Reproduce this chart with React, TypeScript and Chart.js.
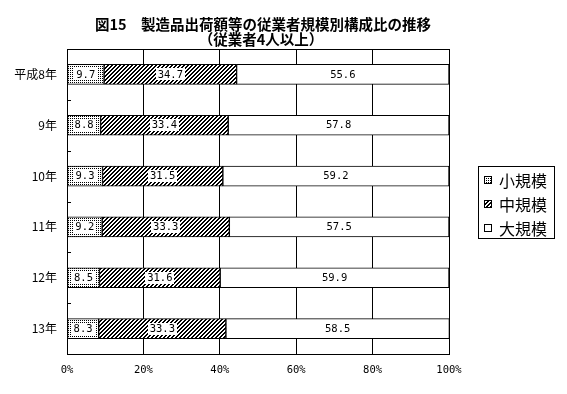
import React, { useEffect, useRef } from 'react';
import { Chart, registerables } from 'chart.js';

Chart.register(...registerables);

const categories = ['平成8年', '9年', '10年', '11年', '12年', '13年'];
const seriesNames = ['小規模', '中規模', '大規模'];
const smallScale = [9.7, 8.8, 9.3, 9.2, 8.5, 8.3];
const mediumScale = [34.7, 33.4, 31.5, 33.3, 31.6, 33.3];
const largeScale = [55.6, 57.8, 59.2, 57.5, 59.9, 58.5];
const xTicks = [0, 20, 40, 60, 80, 100];
const titleLines = ['図15　製造品出荷額等の従業者規模別構成比の推移', '（従業者4人以上）'];

const JP = '"Noto Sans CJK JP", sans-serif';
const MONO = '"DejaVu Sans Mono", monospace';

function makePattern(ctx: CanvasRenderingContext2D, kind: string) {
  const c = document.createElement('canvas');
  c.width = 4;
  c.height = 4;
  const g = c.getContext('2d')!;
  g.fillStyle = '#fff';
  g.fillRect(0, 0, 4, 4);
  g.fillStyle = '#000';
  for (let y = 0; y < 4; y++) {
    for (let x = 0; x < 4; x++) {
      const on = kind === 'dots' ? x % 2 === 0 && y % 2 === 0 : (x + y) % 4 === 0 || (x + y) % 4 === 1;
      if (on) g.fillRect(x, y, 1, 1);
    }
  }
  return ctx.createPattern(c, 'repeat');
}

export default function App() {
  const ref = useRef<HTMLCanvasElement | null>(null);

  useEffect(() => {
    const canvas = ref.current!;
    const ctx0 = canvas.getContext('2d')!;
    const fills: any[] = [makePattern(ctx0, 'dots'), makePattern(ctx0, 'hatch'), '#ffffff'];
    const values = [smallScale, mediumScale, largeScale];

    const framePlugin = {
      id: 'frame',
      afterDatasetsDraw(chart: any) {
        const { ctx, chartArea } = chart;
        const { left, right, top, bottom } = chartArea;
        ctx.save();
        // data labels
        chart.data.datasets.forEach((ds: any, di: number) => {
          const meta = chart.getDatasetMeta(di);
          meta.data.forEach((bar: any, i: number) => {
            const p = bar.getProps(['x', 'y', 'base'], true);
            const cx = (p.x + p.base) / 2;
            const text = Number(ds.data[i]).toFixed(1);
            ctx.font = '10.5px ' + MONO;
            const w = ctx.measureText(text).width;
            ctx.fillStyle = '#fff';
            ctx.fillRect(Math.round(cx - w / 2 - 2), Math.round(p.y - 6), Math.round(w + 4), 12);
            ctx.fillStyle = '#000';
            ctx.textAlign = 'center';
            ctx.textBaseline = 'middle';
            ctx.fillText(text, cx, p.y + 0.5);
          });
        });
        // chart area border
        ctx.strokeStyle = '#000';
        ctx.lineWidth = 1;
        ctx.strokeRect(Math.round(left) + 0.5, Math.round(top) + 0.5, Math.round(right - left), Math.round(bottom - top));
        // inner category ticks
        const n = categories.length;
        const band = (bottom - top) / n;
        ctx.beginPath();
        for (let k = 1; k < n; k++) {
          const y = Math.round(top + k * band) + 0.5;
          ctx.moveTo(Math.round(left), y);
          ctx.lineTo(Math.round(left) + 4, y);
        }
        ctx.stroke();
        ctx.restore();
      },
      afterDraw(chart: any) {
        const { ctx, chartArea } = chart;
        ctx.save();
        // title
        ctx.fillStyle = '#000';
        ctx.textAlign = 'center';
        ctx.textBaseline = 'middle';
        ctx.font = 'bold 14.5px ' + JP;
        ctx.fillText(titleLines[0], 263, 24);
        ctx.fillText(titleLines[1], 261, 39);
        // legend
        const bx = Math.round(chartArea.right) + 29;
        const bh = 72;
        const by = Math.round((chartArea.top + chartArea.bottom) / 2 - bh / 2);
        ctx.strokeStyle = '#000';
        ctx.lineWidth = 1;
        ctx.strokeRect(bx + 0.5, by + 0.5, 76, bh);
        seriesNames.forEach((name, i) => {
          const cy = by + 14 + i * 24;
          ctx.fillStyle = fills[i];
          ctx.fillRect(bx + 6, cy - 4, 8, 8);
          ctx.strokeRect(bx + 6.5, cy - 3.5, 7, 7);
          ctx.fillStyle = '#000';
          ctx.textAlign = 'left';
          ctx.textBaseline = 'middle';
          ctx.font = '16px ' + JP;
          ctx.fillText(name, bx + 21, cy + 1);
        });
        ctx.restore();
      },
    };

    const chart = new Chart(canvas, {
      type: 'bar',
      data: {
        labels: categories,
        datasets: seriesNames.map((name, i) => ({
          label: name,
          data: values[i],
          backgroundColor: fills[i],
          borderColor: '#000',
          borderWidth: 1,
          borderSkipped: false,
          barThickness: 20,
        })),
      },
      options: {
        indexAxis: 'y',
        responsive: false,
        animation: false,
        devicePixelRatio: 1,
        layout: { padding: { top: 49, right: 118, left: 0, bottom: 0 } },
        plugins: {
          legend: { display: false },
          title: { display: false },
          tooltip: { enabled: false },
        },
        scales: {
          x: {
            stacked: true,
            min: 0,
            max: 100,
            afterBuildTicks: (s: any) => {
              s.ticks = xTicks.map((v) => ({ value: v }));
            },
            ticks: {
              callback: (v: any) => v + '%',
              color: '#000',
              font: { family: MONO, size: 10.5 },
              padding: 10,
              maxRotation: 0,
              autoSkip: false,
            },
            grid: { color: '#000', lineWidth: 1, drawTicks: false },
            border: { color: '#000', width: 1 },
            afterFit: (s: any) => {
              s.height = 40;
            },
          },
          y: {
            stacked: true,
            ticks: {
              color: '#000',
              font: { family: JP, size: 12 },
              padding: 10,
            },
            grid: { display: false, drawTicks: false },
            border: { color: '#000', width: 1 },
            afterFit: (s: any) => {
              s.width = 67;
            },
          },
        },
      },
      plugins: [framePlugin],
    } as any);

    return () => chart.destroy();
  }, []);

  return (
    <div style={{ position: 'fixed', left: 0, top: 0, width: 567, height: 394, background: '#fff' }}>
      <canvas ref={ref} width={567} height={394} style={{ display: 'block', width: 567, height: 394 }} />
    </div>
  );
}
